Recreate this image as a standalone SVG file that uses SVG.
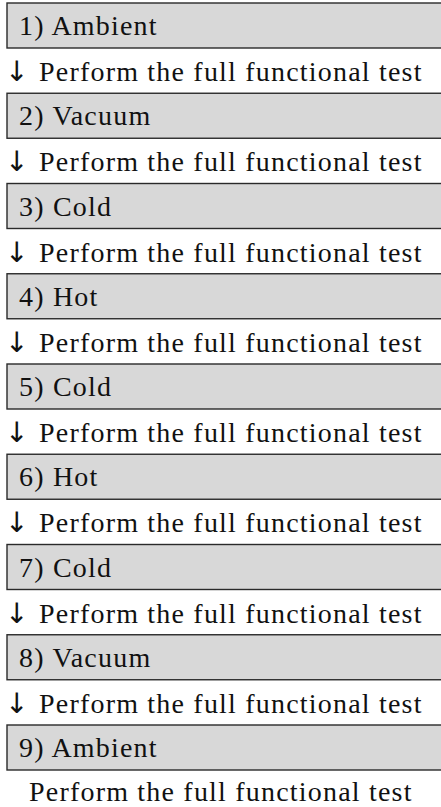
<svg xmlns="http://www.w3.org/2000/svg" width="441" height="807" viewBox="0 0 441 807">
<style>
.box{fill:#d8d8d8;stroke:#2a2a2a;stroke-width:1.4}
.t{font-family:"Liberation Serif","Times New Roman",serif;font-size:28px;letter-spacing:1.2px;fill:#111}
.arr{font-family:"DejaVu Sans",sans-serif;font-size:28px;fill:#111}
</style>
<rect x="0" y="0" width="441" height="807" fill="#fff"/>
<g id="step1"><rect class="box" x="7" y="3" width="440" height="45"/><text class="t" x="19" y="35">1) Ambient</text></g>
<g id="step2"><rect class="box" x="7" y="93.25" width="440" height="45"/><text class="t" x="19" y="125.25">2) Vacuum</text></g>
<g id="step3"><rect class="box" x="7" y="183.5" width="440" height="45"/><text class="t" x="19" y="215.5">3) Cold</text></g>
<g id="step4"><rect class="box" x="7" y="273.75" width="440" height="45"/><text class="t" x="19" y="305.75">4) Hot</text></g>
<g id="step5"><rect class="box" x="7" y="364" width="440" height="45"/><text class="t" x="19" y="396">5) Cold</text></g>
<g id="step6"><rect class="box" x="7" y="454.25" width="440" height="45"/><text class="t" x="19" y="486.25">6) Hot</text></g>
<g id="step7"><rect class="box" x="7" y="544.5" width="440" height="45"/><text class="t" x="19" y="576.5">7) Cold</text></g>
<g id="step8"><rect class="box" x="7" y="634.75" width="440" height="45"/><text class="t" x="19" y="666.75">8) Vacuum</text></g>
<g id="step9"><rect class="box" x="7" y="725" width="440" height="45"/><text class="t" x="19" y="757">9) Ambient</text></g>
<g id="connectors">
<text class="arr" x="5" y="81">↓</text><text class="t" x="39" y="81">Perform the full functional test</text>
<text class="arr" x="5" y="171.25">↓</text><text class="t" x="39" y="171.25">Perform the full functional test</text>
<text class="arr" x="5" y="261.5">↓</text><text class="t" x="39" y="261.5">Perform the full functional test</text>
<text class="arr" x="5" y="351.75">↓</text><text class="t" x="39" y="351.75">Perform the full functional test</text>
<text class="arr" x="5" y="442">↓</text><text class="t" x="39" y="442">Perform the full functional test</text>
<text class="arr" x="5" y="532.25">↓</text><text class="t" x="39" y="532.25">Perform the full functional test</text>
<text class="arr" x="5" y="622.5">↓</text><text class="t" x="39" y="622.5">Perform the full functional test</text>
<text class="arr" x="5" y="712.75">↓</text><text class="t" x="39" y="712.75">Perform the full functional test</text>
</g>
<g id="final"><text class="t" x="29" y="801">Perform the full functional test</text></g>
</svg>
